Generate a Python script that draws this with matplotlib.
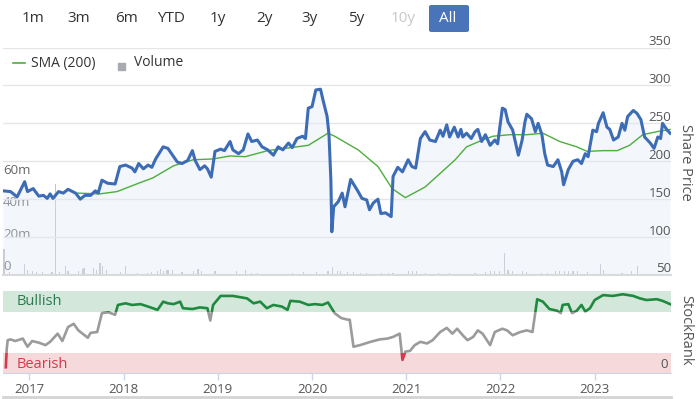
import matplotlib
matplotlib.use('Agg')
import matplotlib.pyplot as plt
from matplotlib.patches import Rectangle, FancyBboxPatch
from matplotlib.lines import Line2D

plt.rcParams['font.family'] = ['Open Sans', 'DejaVu Sans']

# share price (x in decimal years)
price_t = [2016.72, 2016.80, 2016.87, 2016.95, 2016.98, 2017.04, 2017.10, 2017.15, 2017.19, 2017.22,
           2017.25, 2017.31, 2017.36, 2017.41, 2017.49, 2017.54, 2017.59, 2017.65, 2017.70, 2017.73,
           2017.77, 2017.83, 2017.91, 2017.96, 2018.02, 2018.09, 2018.12, 2018.16, 2018.21, 2018.26,
           2018.30, 2018.34, 2018.39, 2018.42, 2018.47, 2018.52, 2018.57, 2018.62, 2018.68, 2018.73,
           2018.76, 2018.81, 2018.86, 2018.89, 2018.93, 2018.97, 2019.03, 2019.07, 2019.13, 2019.16,
           2019.22, 2019.27, 2019.32, 2019.36, 2019.42, 2019.47, 2019.53, 2019.59, 2019.64, 2019.69,
           2019.75, 2019.79, 2019.84, 2019.90, 2019.93, 2019.96, 2020.00, 2020.04, 2020.09, 2020.12,
           2020.16, 2020.18, 2020.20, 2020.21, 2020.23, 2020.28, 2020.32, 2020.35, 2020.41, 2020.48,
           2020.53, 2020.58, 2020.61, 2020.65, 2020.70, 2020.73, 2020.78, 2020.84, 2020.86, 2020.91,
           2020.96, 2021.02, 2021.06, 2021.10, 2021.15, 2021.20, 2021.25, 2021.31, 2021.36, 2021.39,
           2021.43, 2021.46, 2021.51, 2021.55, 2021.58, 2021.60, 2021.64, 2021.69, 2021.73, 2021.76,
           2021.80, 2021.84, 2021.89, 2021.94, 2021.97, 2022.02, 2022.05, 2022.08, 2022.13, 2022.19,
           2022.23, 2022.26, 2022.28, 2022.33, 2022.37, 2022.40, 2022.44, 2022.47, 2022.50, 2022.56,
           2022.61, 2022.65, 2022.67, 2022.72, 2022.77, 2022.82, 2022.86, 2022.90, 2022.93, 2022.98,
           2023.02, 2023.04, 2023.09, 2023.13, 2023.16, 2023.20, 2023.25, 2023.29, 2023.32, 2023.35,
           2023.41, 2023.45, 2023.49, 2023.53, 2023.59, 2023.63, 2023.67, 2023.70, 2023.72, 2023.77,
           2023.80]
price = [161, 160, 153, 173, 160, 164, 154, 155, 151, 157,
         151, 160, 158, 163, 158, 150, 155, 155, 161, 158,
         175, 171, 170, 193, 195, 191, 186, 197, 190, 195,
         192, 203, 213, 219, 217, 208, 199, 197, 201, 214,
         201, 189, 194, 190, 179, 213, 216, 214, 226, 215,
         210, 215, 236, 226, 228, 219, 215, 208, 219, 215,
         224, 218, 230, 233, 230, 270, 272, 294, 295, 279,
         259, 235, 175, 107, 140, 147, 158, 140, 176, 162,
         151, 149, 136, 145, 150, 131, 132, 127, 180, 192,
         186, 202, 193, 191, 230, 239, 228, 226, 241, 233,
         248, 232, 245, 232, 242, 232, 237, 230, 239, 242,
         226, 235, 221, 228, 223, 270, 268, 252, 241, 208,
         228, 252, 262, 256, 239, 250, 235, 210, 195, 193,
         202, 186, 169, 189, 200, 202, 197, 210, 206, 241,
         239, 250, 264, 245, 242, 228, 232, 250, 241, 259,
         267, 263, 255, 232, 224, 217, 232, 230, 250, 241,
         237]

sma_t = [2017.51, 2017.75, 2017.93, 2018.18, 2018.31, 2018.53, 2018.74, 2018.95, 2019.13, 2019.29,
         2019.53, 2019.96, 2020.17, 2020.24, 2020.49, 2020.70, 2020.85, 2020.99, 2021.20, 2021.52,
         2021.64, 2021.81, 2021.92, 2022.10, 2022.28, 2022.45, 2022.63, 2022.81, 2022.92, 2023.09,
         2023.24, 2023.37, 2023.51, 2023.66, 2023.80]
sma = [158, 157, 160, 172, 178, 194, 202, 203, 207, 206,
       214, 221, 237, 233, 215, 193, 164, 152, 166, 202,
       219, 228, 233, 235, 235, 237, 226, 219, 213, 214,
       214, 221, 235, 239, 242]

# volume in millions
vol_t = [2016.73, 2016.79, 2016.95, 2016.98, 2017.03, 2017.08, 2017.14, 2017.24, 2017.28, 2017.32,
         2017.38, 2017.41, 2017.52, 2017.56, 2017.58, 2017.68, 2017.71, 2017.75, 2017.78, 2017.82,
         2017.97, 2018.02, 2018.15, 2018.25, 2018.30, 2018.36, 2018.39, 2018.42, 2018.46, 2018.48,
         2018.52, 2018.62, 2018.74, 2018.79, 2018.83, 2018.97, 2019.20, 2019.29, 2019.36, 2019.42,
         2019.79, 2019.91, 2020.05, 2020.17, 2020.22, 2020.27, 2020.30, 2020.38, 2020.44, 2020.51,
         2020.58, 2020.74, 2020.81, 2020.86, 2021.02, 2021.07, 2021.11, 2021.20, 2021.34, 2021.46,
         2021.73, 2021.84, 2021.89, 2021.94, 2021.99, 2022.04, 2022.08, 2022.13, 2022.23, 2022.28,
         2022.44, 2022.50, 2022.58, 2022.63, 2022.68, 2022.72, 2022.77, 2022.82, 2022.92, 2023.06,
         2023.09, 2023.29, 2023.39, 2023.45]
vol_m = [16.5, 1.7, 6.6, 3.1, 2.3, 1.7, 1.7, 1.7, 57, 1.7,
         5.8, 2.3, 2.3, 3.5, 4.6, 4.6, 2.9, 7.4, 5.8, 2.9,
         1.7, 5.8, 1.2, 1.2, 1.7, 2.3, 3.5, 2.3, 2.9, 2.9,
         2.9, 1.7, 2.3, 4.0, 2.3, 2.3, 2.3, 2.9, 1.2, 1.2,
         1.2, 1.7, 1.7, 2.3, 5.3, 2.3, 2.3, 1.7, 1.7, 1.2,
         1.2, 1.2, 1.2, 1.2, 2.3, 2.3, 2.3, 1.2, 1.2, 1.2,
         1.2, 1.7, 2.3, 2.3, 2.3, 13.8, 2.9, 2.3, 2.3, 1.7,
         1.2, 1.2, 2.3, 2.3, 2.3, 2.3, 2.3, 2.3, 1.7, 6.6,
         2.9, 1.2, 2.3, 5.8]

# StockRank (0-100)
rank_t = [2016.75, 2016.76, 2016.77, 2016.80, 2016.85, 2016.93, 2016.98, 2017.03, 2017.10, 2017.17,
          2017.22, 2017.30, 2017.35, 2017.41, 2017.47, 2017.52, 2017.62, 2017.65, 2017.72, 2017.77,
          2017.84, 2017.91, 2017.94, 2018.02, 2018.09, 2018.18, 2018.26, 2018.36, 2018.42, 2018.47,
          2018.53, 2018.60, 2018.63, 2018.73, 2018.81, 2018.89, 2018.92, 2018.95, 2019.03, 2019.16,
          2019.31, 2019.38, 2019.45, 2019.52, 2019.59, 2019.68, 2019.74, 2019.77, 2019.87, 2019.96,
          2020.03, 2020.11, 2020.17, 2020.24, 2020.31, 2020.38, 2020.40, 2020.44, 2020.51, 2020.62,
          2020.72, 2020.80, 2020.86, 2020.93, 2020.96, 2020.99, 2021.04, 2021.09, 2021.15, 2021.22,
          2021.28, 2021.36, 2021.43, 2021.49, 2021.54, 2021.60, 2021.65, 2021.71, 2021.76, 2021.81,
          2021.89, 2021.94, 2022.02, 2022.07, 2022.13, 2022.21, 2022.28, 2022.34, 2022.39, 2022.45,
          2022.52, 2022.60, 2022.64, 2022.66, 2022.72, 2022.76, 2022.81, 2022.86, 2022.90, 2022.95,
          2023.00, 2023.09, 2023.19, 2023.30, 2023.41, 2023.48, 2023.55, 2023.66, 2023.72, 2023.80]
rank = [7, 30, 40, 41, 39, 42, 32, 39, 37, 34,
        38, 48, 39, 56, 60, 52, 43, 49, 50, 73,
        74, 71, 83, 85, 83, 84, 81, 77, 87, 85,
        84, 87, 79, 78, 80, 79, 64, 83, 94, 94,
        91, 85, 87, 79, 83, 81, 77, 88, 87, 83,
        84, 83, 86, 73, 67, 65, 65, 32, 34, 38,
        41, 42, 44, 48, 16, 26, 27, 34, 38, 36,
        40, 50, 55, 48, 54, 46, 40, 44, 52, 48,
        34, 50, 54, 52, 46, 50, 52, 50, 90, 87,
        78, 76, 73, 83, 84, 73, 76, 83, 75, 79,
        89, 95, 94, 96, 94, 91, 89, 90, 88, 84]

years = [2017, 2018, 2019, 2020, 2021, 2022, 2023]
price_ticks = [50, 100, 150, 200, 250, 300, 350]
vol_ticks = [0, 20, 40, 60]
vol_labels = ['0', '20m', '40m', '60m']
buttons = ['1m', '3m', '6m', 'YTD', '1y', '2y', '3y', '5y', '10y', 'All']
button_x = [33, 79, 126, 171, 218, 264, 310, 356, 403, 448]

W, H = 700, 399
X0, X1 = 2016.72, 2023.81

BLUE = '#3d6cb6'
GREEN = '#4cae3c'
GRID = '#e6e6e6'
LABEL = '#555555'


def box(x0, y0, x1, y1):
    # pixel box (top-left origin) -> figure rect
    return [x0 / W, 1 - y1 / H, (x1 - x0) / W, (y1 - y0) / H]


fig = plt.figure(figsize=(7, 3.99), dpi=100)

# ---- range buttons
fig.add_artist(FancyBboxPatch((429 / W, 1 - 32 / H), 40 / W, 27 / H,
                              boxstyle='round,pad=0,rounding_size=0.004',
                              transform=fig.transFigure, fc='#4a74ba', ec='none'))
for b, bx in zip(buttons, button_x):
    col = '#333333'
    if b == '10y':
        col = '#c8c8c8'
    if b == 'All':
        col = 'white'
    fig.text(bx / W, 1 - 18.5 / H, b, ha='center', va='center', fontsize=11, color=col)

# ---- price panel
ax_v = fig.add_axes(box(3, 47.5, 671, 275))
ax = fig.add_axes(box(3, 47.5, 671, 275))
ax.set_zorder(2)
ax.patch.set_visible(False)

ax_v.bar(vol_t, vol_m, width=0.012, color='#c2c2ca', linewidth=0)
ax_v.set_xlim(X0, X1)
ax_v.set_ylim(0, 142)
ax_v.set_xticks([])
ax_v.set_yticks([])
for s in ax_v.spines.values():
    s.set_visible(False)
for v, lab in zip(vol_ticks, vol_labels):
    ax_v.annotate(lab, xy=(0, v), xycoords=('axes fraction', 'data'),
                  xytext=(0, 8), textcoords='offset pixels',
                  ha='left', va='center', fontsize=9.5, color='#666666')

ax.fill_between(price_t, price, 50, color='#dfe6f4', alpha=0.35, linewidth=0)
ax.plot(sma_t, sma, color=GREEN, lw=1.0)
ax.plot(price_t, price, color=BLUE, lw=2.2, solid_joinstyle='round')
ax.set_xlim(X0, X1)
ax.set_ylim(50, 350)
ax.set_yticks(price_ticks)
ax.set_xticks([])
ax.grid(axis='y', color=GRID, lw=1)
ax.set_axisbelow(True)
ax.tick_params(axis='y', length=0, labelleft=False)
for s in ['top', 'left', 'right']:
    ax.spines[s].set_visible(False)
ax.spines['bottom'].set_color('#dadada')
ax.spines['bottom'].set_linewidth(1.5)
for v in price_ticks:
    ax.annotate(str(v), xy=(1, v), xycoords=('axes fraction', 'data'),
                xytext=(0, 6), textcoords='offset pixels',
                ha='right', va='center', fontsize=9.5, color=LABEL)

# legend
fig.add_artist(Line2D([13 / W, 25 / W], [1 - 63 / H] * 2, color=GREEN, lw=1.2,
                      transform=fig.transFigure))
fig.text(31 / W, 1 - 63 / H, 'SMA (200)', ha='left', va='center', fontsize=10, color='#333333')
fig.add_artist(Rectangle((118 / W, 1 - 70 / H), 7 / W, 7 / H, color='#a9a9b1',
                         transform=fig.transFigure))
fig.text(134 / W, 1 - 63 / H, 'Volume', ha='left', va='center', fontsize=10, color='#333333')

fig.text(686 / W, 1 - 162 / H, 'Share Price', rotation=270, ha='center', va='center',
         fontsize=10.5, color=LABEL)

# ---- StockRank panel
ax2 = fig.add_axes(box(3, 291, 671, 373))
ax2.set_xlim(X0, X1)
ax2.set_ylim(0, 100)
ax2.axhspan(75, 100, color='#d3e8da', lw=0)
ax2.axhspan(0, 25, color='#f6d9db', lw=0)

zones = [(75, 200, '#1f8a3f'), (25, 50, '#9b9b9b'), (-100, 125, '#d6394b')]
for y0, hgt, col in zones:
    ln, = ax2.plot(rank_t, rank, color=col, lw=1.9, solid_joinstyle='round')
    ln.set_clip_path(Rectangle((X0, y0), X1 - X0, hgt, transform=ax2.transData))

ax2.text(2016.86, 87, 'Bullish', ha='left', va='center', fontsize=10.5, color='#2b7a50')
ax2.text(2016.86, 10, 'Bearish', ha='left', va='center', fontsize=10.5, color='#d23b4c')
ax2.annotate('0', xy=(1, 0), xycoords='axes fraction', xytext=(-3, 8),
             textcoords='offset pixels', ha='right', va='center', fontsize=9.5, color=LABEL)

ax2.set_yticks([])
ax2.set_xticks(years)
ax2.set_xticklabels([str(y) for y in years])
ax2.tick_params(axis='x', length=5, width=1, color='#ccd6eb', labelsize=9.5,
                labelcolor=LABEL, pad=2)
for s in ['top', 'left', 'right']:
    ax2.spines[s].set_visible(False)
ax2.spines['bottom'].set_color('#ccd6eb')

fig.text(686 / W, 1 - 330 / H, 'StockRank', rotation=270, ha='center', va='center',
         fontsize=10.5, color=LABEL)

# bottom separator
fig.add_artist(Line2D([3 / W, 671 / W], [1 - 397 / H] * 2, color='#d4d4d4', lw=2,
                      transform=fig.transFigure))

fig.savefig('out.png', dpi=100)
